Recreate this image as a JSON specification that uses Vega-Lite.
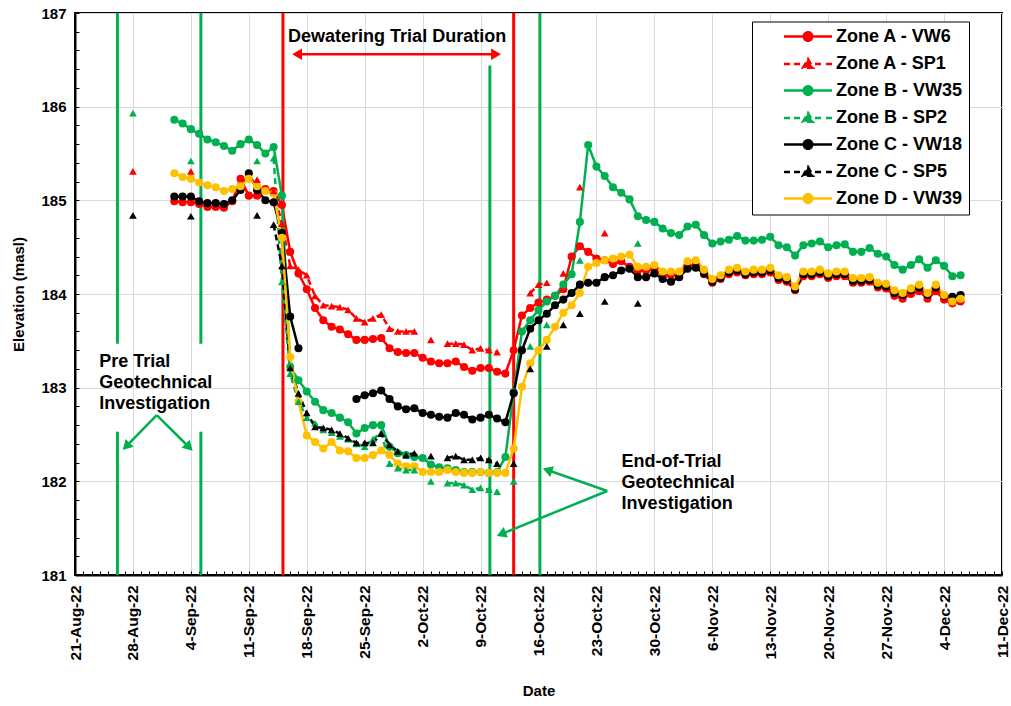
{
  "$schema": "https://vega.github.io/schema/vega-lite/v6.json",
  "width": 927,
  "height": 562,
  "autosize": "none",
  "padding": {"left": 75, "top": 13, "right": 9, "bottom": 131},
  "background": "white",
  "config": {
    "font": "Liberation Sans",
    "view": {"stroke": "black", "strokeWidth": 2},
    "axis": {
      "labelFont": "Liberation Sans",
      "labelFontWeight": "bold",
      "labelFontSize": 15,
      "labelColor": "black",
      "titleFont": "Liberation Sans",
      "titleFontWeight": "bold",
      "titleFontSize": 15,
      "titleColor": "black",
      "domainColor": "black",
      "domainWidth": 2,
      "tickColor": "black",
      "tickWidth": 1,
      "gridColor": "#d9d9d9",
      "gridWidth": 1
    },
    "legend": {
      "labelFont": "Liberation Sans",
      "labelFontWeight": "bold",
      "labelFontSize": 18,
      "labelColor": "black"
    }
  },
  "datasets": {
    "levels": [
      {"date": "2022-09-02", "series": "Zone A - VW6", "elev": 184.99},
      {"date": "2022-09-03", "series": "Zone A - VW6", "elev": 184.98},
      {"date": "2022-09-04", "series": "Zone A - VW6", "elev": 184.98},
      {"date": "2022-09-05", "series": "Zone A - VW6", "elev": 184.96},
      {"date": "2022-09-06", "series": "Zone A - VW6", "elev": 184.93},
      {"date": "2022-09-07", "series": "Zone A - VW6", "elev": 184.93},
      {"date": "2022-09-08", "series": "Zone A - VW6", "elev": 184.92},
      {"date": "2022-09-09", "series": "Zone A - VW6", "elev": 184.99},
      {"date": "2022-09-10", "series": "Zone A - VW6", "elev": 185.23},
      {"date": "2022-09-11", "series": "Zone A - VW6", "elev": 185.05},
      {"date": "2022-09-12", "series": "Zone A - VW6", "elev": 185.05},
      {"date": "2022-09-13", "series": "Zone A - VW6", "elev": 185.12},
      {"date": "2022-09-14", "series": "Zone A - VW6", "elev": 185.10},
      {"date": "2022-09-15", "series": "Zone A - VW6", "elev": 184.95},
      {"date": "2022-09-16", "series": "Zone A - VW6", "elev": 184.45},
      {"date": "2022-09-17", "series": "Zone A - VW6", "elev": 184.22},
      {"date": "2022-09-18", "series": "Zone A - VW6", "elev": 184.05},
      {"date": "2022-09-19", "series": "Zone A - VW6", "elev": 183.85},
      {"date": "2022-09-20", "series": "Zone A - VW6", "elev": 183.72},
      {"date": "2022-09-21", "series": "Zone A - VW6", "elev": 183.65},
      {"date": "2022-09-22", "series": "Zone A - VW6", "elev": 183.62},
      {"date": "2022-09-23", "series": "Zone A - VW6", "elev": 183.57},
      {"date": "2022-09-24", "series": "Zone A - VW6", "elev": 183.51},
      {"date": "2022-09-25", "series": "Zone A - VW6", "elev": 183.51},
      {"date": "2022-09-26", "series": "Zone A - VW6", "elev": 183.52},
      {"date": "2022-09-27", "series": "Zone A - VW6", "elev": 183.53},
      {"date": "2022-09-28", "series": "Zone A - VW6", "elev": 183.42},
      {"date": "2022-09-29", "series": "Zone A - VW6", "elev": 183.38},
      {"date": "2022-09-30", "series": "Zone A - VW6", "elev": 183.37},
      {"date": "2022-10-01", "series": "Zone A - VW6", "elev": 183.37},
      {"date": "2022-10-02", "series": "Zone A - VW6", "elev": 183.32},
      {"date": "2022-10-03", "series": "Zone A - VW6", "elev": 183.28},
      {"date": "2022-10-04", "series": "Zone A - VW6", "elev": 183.26},
      {"date": "2022-10-05", "series": "Zone A - VW6", "elev": 183.26},
      {"date": "2022-10-06", "series": "Zone A - VW6", "elev": 183.28},
      {"date": "2022-10-07", "series": "Zone A - VW6", "elev": 183.22},
      {"date": "2022-10-08", "series": "Zone A - VW6", "elev": 183.18},
      {"date": "2022-10-09", "series": "Zone A - VW6", "elev": 183.21},
      {"date": "2022-10-10", "series": "Zone A - VW6", "elev": 183.21},
      {"date": "2022-10-11", "series": "Zone A - VW6", "elev": 183.17},
      {"date": "2022-10-12", "series": "Zone A - VW6", "elev": 183.15},
      {"date": "2022-10-13", "series": "Zone A - VW6", "elev": 183.40},
      {"date": "2022-10-14", "series": "Zone A - VW6", "elev": 183.77},
      {"date": "2022-10-15", "series": "Zone A - VW6", "elev": 183.85},
      {"date": "2022-10-16", "series": "Zone A - VW6", "elev": 183.91},
      {"date": "2022-10-17", "series": "Zone A - VW6", "elev": 183.94},
      {"date": "2022-10-18", "series": "Zone A - VW6", "elev": 183.98},
      {"date": "2022-10-19", "series": "Zone A - VW6", "elev": 184.05},
      {"date": "2022-10-20", "series": "Zone A - VW6", "elev": 184.40},
      {"date": "2022-10-21", "series": "Zone A - VW6", "elev": 184.51},
      {"date": "2022-10-22", "series": "Zone A - VW6", "elev": 184.45},
      {"date": "2022-10-23", "series": "Zone A - VW6", "elev": 184.38},
      {"date": "2022-10-24", "series": "Zone A - VW6", "elev": 184.36},
      {"date": "2022-10-25", "series": "Zone A - VW6", "elev": 184.32},
      {"date": "2022-10-26", "series": "Zone A - VW6", "elev": 184.35},
      {"date": "2022-10-27", "series": "Zone A - VW6", "elev": 184.29},
      {"date": "2022-10-28", "series": "Zone A - VW6", "elev": 184.25},
      {"date": "2022-10-29", "series": "Zone A - VW6", "elev": 184.25},
      {"date": "2022-10-30", "series": "Zone A - VW6", "elev": 184.27},
      {"date": "2022-10-31", "series": "Zone A - VW6", "elev": 184.20},
      {"date": "2022-11-01", "series": "Zone A - VW6", "elev": 184.20},
      {"date": "2022-11-02", "series": "Zone A - VW6", "elev": 184.20},
      {"date": "2022-11-03", "series": "Zone A - VW6", "elev": 184.30},
      {"date": "2022-11-04", "series": "Zone A - VW6", "elev": 184.31},
      {"date": "2022-11-05", "series": "Zone A - VW6", "elev": 184.21},
      {"date": "2022-11-06", "series": "Zone A - VW6", "elev": 184.12},
      {"date": "2022-11-07", "series": "Zone A - VW6", "elev": 184.16},
      {"date": "2022-11-08", "series": "Zone A - VW6", "elev": 184.21},
      {"date": "2022-11-09", "series": "Zone A - VW6", "elev": 184.23},
      {"date": "2022-11-10", "series": "Zone A - VW6", "elev": 184.20},
      {"date": "2022-11-11", "series": "Zone A - VW6", "elev": 184.21},
      {"date": "2022-11-12", "series": "Zone A - VW6", "elev": 184.21},
      {"date": "2022-11-13", "series": "Zone A - VW6", "elev": 184.23},
      {"date": "2022-11-14", "series": "Zone A - VW6", "elev": 184.15},
      {"date": "2022-11-15", "series": "Zone A - VW6", "elev": 184.13},
      {"date": "2022-11-16", "series": "Zone A - VW6", "elev": 184.04},
      {"date": "2022-11-17", "series": "Zone A - VW6", "elev": 184.19},
      {"date": "2022-11-18", "series": "Zone A - VW6", "elev": 184.19},
      {"date": "2022-11-19", "series": "Zone A - VW6", "elev": 184.21},
      {"date": "2022-11-20", "series": "Zone A - VW6", "elev": 184.17},
      {"date": "2022-11-21", "series": "Zone A - VW6", "elev": 184.19},
      {"date": "2022-11-22", "series": "Zone A - VW6", "elev": 184.19},
      {"date": "2022-11-23", "series": "Zone A - VW6", "elev": 184.12},
      {"date": "2022-11-24", "series": "Zone A - VW6", "elev": 184.12},
      {"date": "2022-11-25", "series": "Zone A - VW6", "elev": 184.13},
      {"date": "2022-11-26", "series": "Zone A - VW6", "elev": 184.07},
      {"date": "2022-11-27", "series": "Zone A - VW6", "elev": 184.06},
      {"date": "2022-11-28", "series": "Zone A - VW6", "elev": 183.98},
      {"date": "2022-11-29", "series": "Zone A - VW6", "elev": 183.95},
      {"date": "2022-11-30", "series": "Zone A - VW6", "elev": 184.00},
      {"date": "2022-12-01", "series": "Zone A - VW6", "elev": 184.03},
      {"date": "2022-12-02", "series": "Zone A - VW6", "elev": 183.95},
      {"date": "2022-12-03", "series": "Zone A - VW6", "elev": 184.03},
      {"date": "2022-12-04", "series": "Zone A - VW6", "elev": 183.94},
      {"date": "2022-12-05", "series": "Zone A - VW6", "elev": 183.90},
      {"date": "2022-12-06", "series": "Zone A - VW6", "elev": 183.92},

      {"date": "2022-08-28", "series": "Zone A - SP1", "elev": 185.31},
      {"date": "2022-09-01", "series": "Zone A - SP1", "elev": null},
      {"date": "2022-09-04", "series": "Zone A - SP1", "elev": 185.31},
      {"date": "2022-09-08", "series": "Zone A - SP1", "elev": null},
      {"date": "2022-09-12", "series": "Zone A - SP1", "elev": 185.22},
      {"date": "2022-09-13", "series": "Zone A - SP1", "elev": null},
      {"date": "2022-09-14", "series": "Zone A - SP1", "elev": 185.10},
      {"date": "2022-09-15", "series": "Zone A - SP1", "elev": 184.75},
      {"date": "2022-09-16", "series": "Zone A - SP1", "elev": 184.30},
      {"date": "2022-09-17", "series": "Zone A - SP1", "elev": 184.26},
      {"date": "2022-09-18", "series": "Zone A - SP1", "elev": 184.20},
      {"date": "2022-09-19", "series": "Zone A - SP1", "elev": 183.98},
      {"date": "2022-09-20", "series": "Zone A - SP1", "elev": 183.88},
      {"date": "2022-09-21", "series": "Zone A - SP1", "elev": 183.87},
      {"date": "2022-09-22", "series": "Zone A - SP1", "elev": 183.86},
      {"date": "2022-09-23", "series": "Zone A - SP1", "elev": 183.83},
      {"date": "2022-09-24", "series": "Zone A - SP1", "elev": 183.74},
      {"date": "2022-09-25", "series": "Zone A - SP1", "elev": 183.70},
      {"date": "2022-09-26", "series": "Zone A - SP1", "elev": 183.74},
      {"date": "2022-09-27", "series": "Zone A - SP1", "elev": 183.78},
      {"date": "2022-09-28", "series": "Zone A - SP1", "elev": 183.63},
      {"date": "2022-09-29", "series": "Zone A - SP1", "elev": 183.60},
      {"date": "2022-09-30", "series": "Zone A - SP1", "elev": 183.60},
      {"date": "2022-10-01", "series": "Zone A - SP1", "elev": 183.60},
      {"date": "2022-10-02", "series": "Zone A - SP1", "elev": null},
      {"date": "2022-10-03", "series": "Zone A - SP1", "elev": 183.51},
      {"date": "2022-10-04", "series": "Zone A - SP1", "elev": null},
      {"date": "2022-10-05", "series": "Zone A - SP1", "elev": 183.47},
      {"date": "2022-10-06", "series": "Zone A - SP1", "elev": 183.47},
      {"date": "2022-10-07", "series": "Zone A - SP1", "elev": 183.46},
      {"date": "2022-10-08", "series": "Zone A - SP1", "elev": 183.40},
      {"date": "2022-10-09", "series": "Zone A - SP1", "elev": 183.42},
      {"date": "2022-10-10", "series": "Zone A - SP1", "elev": 183.40},
      {"date": "2022-10-11", "series": "Zone A - SP1", "elev": 183.38},
      {"date": "2022-10-12", "series": "Zone A - SP1", "elev": null},
      {"date": "2022-10-15", "series": "Zone A - SP1", "elev": 184.01},
      {"date": "2022-10-16", "series": "Zone A - SP1", "elev": 184.10},
      {"date": "2022-10-17", "series": "Zone A - SP1", "elev": 184.12},
      {"date": "2022-10-18", "series": "Zone A - SP1", "elev": null},
      {"date": "2022-10-19", "series": "Zone A - SP1", "elev": 184.22},
      {"date": "2022-10-20", "series": "Zone A - SP1", "elev": null},
      {"date": "2022-10-21", "series": "Zone A - SP1", "elev": 185.14},
      {"date": "2022-10-22", "series": "Zone A - SP1", "elev": null},
      {"date": "2022-10-24", "series": "Zone A - SP1", "elev": 184.65},

      {"date": "2022-09-02", "series": "Zone B - VW35", "elev": 185.86},
      {"date": "2022-09-03", "series": "Zone B - VW35", "elev": 185.82},
      {"date": "2022-09-04", "series": "Zone B - VW35", "elev": 185.76},
      {"date": "2022-09-05", "series": "Zone B - VW35", "elev": 185.71},
      {"date": "2022-09-06", "series": "Zone B - VW35", "elev": 185.65},
      {"date": "2022-09-07", "series": "Zone B - VW35", "elev": 185.62},
      {"date": "2022-09-08", "series": "Zone B - VW35", "elev": 185.58},
      {"date": "2022-09-09", "series": "Zone B - VW35", "elev": 185.53},
      {"date": "2022-09-10", "series": "Zone B - VW35", "elev": 185.60},
      {"date": "2022-09-11", "series": "Zone B - VW35", "elev": 185.65},
      {"date": "2022-09-12", "series": "Zone B - VW35", "elev": 185.59},
      {"date": "2022-09-13", "series": "Zone B - VW35", "elev": 185.50},
      {"date": "2022-09-14", "series": "Zone B - VW35", "elev": 185.57},
      {"date": "2022-09-15", "series": "Zone B - VW35", "elev": 185.05},
      {"date": "2022-09-16", "series": "Zone B - VW35", "elev": 183.22},
      {"date": "2022-09-17", "series": "Zone B - VW35", "elev": 183.08},
      {"date": "2022-09-18", "series": "Zone B - VW35", "elev": 182.96},
      {"date": "2022-09-19", "series": "Zone B - VW35", "elev": 182.85},
      {"date": "2022-09-20", "series": "Zone B - VW35", "elev": 182.76},
      {"date": "2022-09-21", "series": "Zone B - VW35", "elev": 182.73},
      {"date": "2022-09-22", "series": "Zone B - VW35", "elev": 182.68},
      {"date": "2022-09-23", "series": "Zone B - VW35", "elev": 182.63},
      {"date": "2022-09-24", "series": "Zone B - VW35", "elev": 182.51},
      {"date": "2022-09-25", "series": "Zone B - VW35", "elev": 182.57},
      {"date": "2022-09-26", "series": "Zone B - VW35", "elev": 182.60},
      {"date": "2022-09-27", "series": "Zone B - VW35", "elev": 182.60},
      {"date": "2022-09-28", "series": "Zone B - VW35", "elev": 182.37},
      {"date": "2022-09-29", "series": "Zone B - VW35", "elev": 182.30},
      {"date": "2022-09-30", "series": "Zone B - VW35", "elev": 182.28},
      {"date": "2022-10-01", "series": "Zone B - VW35", "elev": 182.26},
      {"date": "2022-10-02", "series": "Zone B - VW35", "elev": 182.25},
      {"date": "2022-10-03", "series": "Zone B - VW35", "elev": 182.18},
      {"date": "2022-10-04", "series": "Zone B - VW35", "elev": 182.15},
      {"date": "2022-10-05", "series": "Zone B - VW35", "elev": 182.14},
      {"date": "2022-10-06", "series": "Zone B - VW35", "elev": 182.12},
      {"date": "2022-10-07", "series": "Zone B - VW35", "elev": 182.10},
      {"date": "2022-10-08", "series": "Zone B - VW35", "elev": 182.10},
      {"date": "2022-10-09", "series": "Zone B - VW35", "elev": 182.10},
      {"date": "2022-10-10", "series": "Zone B - VW35", "elev": 182.09},
      {"date": "2022-10-11", "series": "Zone B - VW35", "elev": 182.10},
      {"date": "2022-10-12", "series": "Zone B - VW35", "elev": 182.26},
      {"date": "2022-10-13", "series": "Zone B - VW35", "elev": 182.95},
      {"date": "2022-10-14", "series": "Zone B - VW35", "elev": 183.60},
      {"date": "2022-10-15", "series": "Zone B - VW35", "elev": 183.72},
      {"date": "2022-10-16", "series": "Zone B - VW35", "elev": 183.83},
      {"date": "2022-10-17", "series": "Zone B - VW35", "elev": 183.92},
      {"date": "2022-10-18", "series": "Zone B - VW35", "elev": 183.98},
      {"date": "2022-10-19", "series": "Zone B - VW35", "elev": 184.10},
      {"date": "2022-10-20", "series": "Zone B - VW35", "elev": 184.21},
      {"date": "2022-10-21", "series": "Zone B - VW35", "elev": 184.77},
      {"date": "2022-10-22", "series": "Zone B - VW35", "elev": 185.59},
      {"date": "2022-10-23", "series": "Zone B - VW35", "elev": 185.36},
      {"date": "2022-10-24", "series": "Zone B - VW35", "elev": 185.26},
      {"date": "2022-10-25", "series": "Zone B - VW35", "elev": 185.14},
      {"date": "2022-10-26", "series": "Zone B - VW35", "elev": 185.08},
      {"date": "2022-10-27", "series": "Zone B - VW35", "elev": 185.01},
      {"date": "2022-10-28", "series": "Zone B - VW35", "elev": 184.83},
      {"date": "2022-10-29", "series": "Zone B - VW35", "elev": 184.79},
      {"date": "2022-10-30", "series": "Zone B - VW35", "elev": 184.77},
      {"date": "2022-10-31", "series": "Zone B - VW35", "elev": 184.70},
      {"date": "2022-11-01", "series": "Zone B - VW35", "elev": 184.65},
      {"date": "2022-11-02", "series": "Zone B - VW35", "elev": 184.63},
      {"date": "2022-11-03", "series": "Zone B - VW35", "elev": 184.72},
      {"date": "2022-11-04", "series": "Zone B - VW35", "elev": 184.74},
      {"date": "2022-11-05", "series": "Zone B - VW35", "elev": 184.63},
      {"date": "2022-11-06", "series": "Zone B - VW35", "elev": 184.54},
      {"date": "2022-11-07", "series": "Zone B - VW35", "elev": 184.56},
      {"date": "2022-11-08", "series": "Zone B - VW35", "elev": 184.58},
      {"date": "2022-11-09", "series": "Zone B - VW35", "elev": 184.62},
      {"date": "2022-11-10", "series": "Zone B - VW35", "elev": 184.57},
      {"date": "2022-11-11", "series": "Zone B - VW35", "elev": 184.57},
      {"date": "2022-11-12", "series": "Zone B - VW35", "elev": 184.58},
      {"date": "2022-11-13", "series": "Zone B - VW35", "elev": 184.61},
      {"date": "2022-11-14", "series": "Zone B - VW35", "elev": 184.52},
      {"date": "2022-11-15", "series": "Zone B - VW35", "elev": 184.50},
      {"date": "2022-11-16", "series": "Zone B - VW35", "elev": 184.41},
      {"date": "2022-11-17", "series": "Zone B - VW35", "elev": 184.52},
      {"date": "2022-11-18", "series": "Zone B - VW35", "elev": 184.54},
      {"date": "2022-11-19", "series": "Zone B - VW35", "elev": 184.56},
      {"date": "2022-11-20", "series": "Zone B - VW35", "elev": 184.50},
      {"date": "2022-11-21", "series": "Zone B - VW35", "elev": 184.52},
      {"date": "2022-11-22", "series": "Zone B - VW35", "elev": 184.53},
      {"date": "2022-11-23", "series": "Zone B - VW35", "elev": 184.45},
      {"date": "2022-11-24", "series": "Zone B - VW35", "elev": 184.45},
      {"date": "2022-11-25", "series": "Zone B - VW35", "elev": 184.49},
      {"date": "2022-11-26", "series": "Zone B - VW35", "elev": 184.43},
      {"date": "2022-11-27", "series": "Zone B - VW35", "elev": 184.40},
      {"date": "2022-11-28", "series": "Zone B - VW35", "elev": 184.31},
      {"date": "2022-11-29", "series": "Zone B - VW35", "elev": 184.26},
      {"date": "2022-11-30", "series": "Zone B - VW35", "elev": 184.31},
      {"date": "2022-12-01", "series": "Zone B - VW35", "elev": 184.37},
      {"date": "2022-12-02", "series": "Zone B - VW35", "elev": 184.28},
      {"date": "2022-12-03", "series": "Zone B - VW35", "elev": 184.36},
      {"date": "2022-12-04", "series": "Zone B - VW35", "elev": 184.30},
      {"date": "2022-12-05", "series": "Zone B - VW35", "elev": 184.19},
      {"date": "2022-12-06", "series": "Zone B - VW35", "elev": 184.20},

      {"date": "2022-08-28", "series": "Zone B - SP2", "elev": 185.93},
      {"date": "2022-09-01", "series": "Zone B - SP2", "elev": null},
      {"date": "2022-09-04", "series": "Zone B - SP2", "elev": 185.42},
      {"date": "2022-09-08", "series": "Zone B - SP2", "elev": null},
      {"date": "2022-09-12", "series": "Zone B - SP2", "elev": 185.42},
      {"date": "2022-09-13", "series": "Zone B - SP2", "elev": null},
      {"date": "2022-09-14", "series": "Zone B - SP2", "elev": 185.45},
      {"date": "2022-09-15", "series": "Zone B - SP2", "elev": 184.13},
      {"date": "2022-09-16", "series": "Zone B - SP2", "elev": 183.15},
      {"date": "2022-09-17", "series": "Zone B - SP2", "elev": 182.85},
      {"date": "2022-09-18", "series": "Zone B - SP2", "elev": 182.68},
      {"date": "2022-09-19", "series": "Zone B - SP2", "elev": 182.62},
      {"date": "2022-09-20", "series": "Zone B - SP2", "elev": 182.55},
      {"date": "2022-09-21", "series": "Zone B - SP2", "elev": 182.52},
      {"date": "2022-09-22", "series": "Zone B - SP2", "elev": 182.48},
      {"date": "2022-09-23", "series": "Zone B - SP2", "elev": 182.45},
      {"date": "2022-09-24", "series": "Zone B - SP2", "elev": 182.40},
      {"date": "2022-09-25", "series": "Zone B - SP2", "elev": 182.37},
      {"date": "2022-09-26", "series": "Zone B - SP2", "elev": 182.45},
      {"date": "2022-09-27", "series": "Zone B - SP2", "elev": 182.52},
      {"date": "2022-09-28", "series": "Zone B - SP2", "elev": 182.19},
      {"date": "2022-09-29", "series": "Zone B - SP2", "elev": 182.14},
      {"date": "2022-09-30", "series": "Zone B - SP2", "elev": 182.12},
      {"date": "2022-10-01", "series": "Zone B - SP2", "elev": 182.12},
      {"date": "2022-10-02", "series": "Zone B - SP2", "elev": null},
      {"date": "2022-10-03", "series": "Zone B - SP2", "elev": 182.00},
      {"date": "2022-10-04", "series": "Zone B - SP2", "elev": null},
      {"date": "2022-10-05", "series": "Zone B - SP2", "elev": 181.98},
      {"date": "2022-10-06", "series": "Zone B - SP2", "elev": 181.98},
      {"date": "2022-10-07", "series": "Zone B - SP2", "elev": 181.96},
      {"date": "2022-10-08", "series": "Zone B - SP2", "elev": 181.91},
      {"date": "2022-10-09", "series": "Zone B - SP2", "elev": 181.93},
      {"date": "2022-10-10", "series": "Zone B - SP2", "elev": 181.91},
      {"date": "2022-10-11", "series": "Zone B - SP2", "elev": 181.89},
      {"date": "2022-10-12", "series": "Zone B - SP2", "elev": null},
      {"date": "2022-10-13", "series": "Zone B - SP2", "elev": 182.00},
      {"date": "2022-10-14", "series": "Zone B - SP2", "elev": null},
      {"date": "2022-10-15", "series": "Zone B - SP2", "elev": 183.44},
      {"date": "2022-10-16", "series": "Zone B - SP2", "elev": null},
      {"date": "2022-10-17", "series": "Zone B - SP2", "elev": 183.67},
      {"date": "2022-10-18", "series": "Zone B - SP2", "elev": null},
      {"date": "2022-10-21", "series": "Zone B - SP2", "elev": 184.36},
      {"date": "2022-10-22", "series": "Zone B - SP2", "elev": null},
      {"date": "2022-10-28", "series": "Zone B - SP2", "elev": 184.54},

      {"date": "2022-09-02", "series": "Zone C - VW18", "elev": 185.04},
      {"date": "2022-09-03", "series": "Zone C - VW18", "elev": 185.04},
      {"date": "2022-09-04", "series": "Zone C - VW18", "elev": 185.04},
      {"date": "2022-09-05", "series": "Zone C - VW18", "elev": 184.99},
      {"date": "2022-09-06", "series": "Zone C - VW18", "elev": 184.97},
      {"date": "2022-09-07", "series": "Zone C - VW18", "elev": 184.97},
      {"date": "2022-09-08", "series": "Zone C - VW18", "elev": 184.96},
      {"date": "2022-09-09", "series": "Zone C - VW18", "elev": 185.00},
      {"date": "2022-09-10", "series": "Zone C - VW18", "elev": 185.11},
      {"date": "2022-09-11", "series": "Zone C - VW18", "elev": 185.29},
      {"date": "2022-09-12", "series": "Zone C - VW18", "elev": 185.11},
      {"date": "2022-09-13", "series": "Zone C - VW18", "elev": 185.00},
      {"date": "2022-09-14", "series": "Zone C - VW18", "elev": 184.98},
      {"date": "2022-09-15", "series": "Zone C - VW18", "elev": 184.65},
      {"date": "2022-09-16", "series": "Zone C - VW18", "elev": 183.76},
      {"date": "2022-09-17", "series": "Zone C - VW18", "elev": 183.42},
      {"date": "2022-09-18", "series": "Zone C - VW18", "elev": null},
      {"date": "2022-09-24", "series": "Zone C - VW18", "elev": 182.88},
      {"date": "2022-09-25", "series": "Zone C - VW18", "elev": 182.92},
      {"date": "2022-09-26", "series": "Zone C - VW18", "elev": 182.94},
      {"date": "2022-09-27", "series": "Zone C - VW18", "elev": 182.97},
      {"date": "2022-09-28", "series": "Zone C - VW18", "elev": 182.88},
      {"date": "2022-09-29", "series": "Zone C - VW18", "elev": 182.80},
      {"date": "2022-09-30", "series": "Zone C - VW18", "elev": 182.77},
      {"date": "2022-10-01", "series": "Zone C - VW18", "elev": 182.78},
      {"date": "2022-10-02", "series": "Zone C - VW18", "elev": 182.73},
      {"date": "2022-10-03", "series": "Zone C - VW18", "elev": 182.71},
      {"date": "2022-10-04", "series": "Zone C - VW18", "elev": 182.69},
      {"date": "2022-10-05", "series": "Zone C - VW18", "elev": 182.68},
      {"date": "2022-10-06", "series": "Zone C - VW18", "elev": 182.73},
      {"date": "2022-10-07", "series": "Zone C - VW18", "elev": 182.71},
      {"date": "2022-10-08", "series": "Zone C - VW18", "elev": 182.66},
      {"date": "2022-10-09", "series": "Zone C - VW18", "elev": 182.68},
      {"date": "2022-10-10", "series": "Zone C - VW18", "elev": 182.71},
      {"date": "2022-10-11", "series": "Zone C - VW18", "elev": 182.67},
      {"date": "2022-10-12", "series": "Zone C - VW18", "elev": 182.63},
      {"date": "2022-10-13", "series": "Zone C - VW18", "elev": 182.94},
      {"date": "2022-10-14", "series": "Zone C - VW18", "elev": 183.40},
      {"date": "2022-10-15", "series": "Zone C - VW18", "elev": 183.63},
      {"date": "2022-10-16", "series": "Zone C - VW18", "elev": 183.72},
      {"date": "2022-10-17", "series": "Zone C - VW18", "elev": 183.79},
      {"date": "2022-10-18", "series": "Zone C - VW18", "elev": 183.88},
      {"date": "2022-10-19", "series": "Zone C - VW18", "elev": 183.94},
      {"date": "2022-10-20", "series": "Zone C - VW18", "elev": 184.01},
      {"date": "2022-10-21", "series": "Zone C - VW18", "elev": 184.10},
      {"date": "2022-10-22", "series": "Zone C - VW18", "elev": 184.12},
      {"date": "2022-10-23", "series": "Zone C - VW18", "elev": 184.12},
      {"date": "2022-10-24", "series": "Zone C - VW18", "elev": 184.18},
      {"date": "2022-10-25", "series": "Zone C - VW18", "elev": 184.20},
      {"date": "2022-10-26", "series": "Zone C - VW18", "elev": 184.25},
      {"date": "2022-10-27", "series": "Zone C - VW18", "elev": 184.27},
      {"date": "2022-10-28", "series": "Zone C - VW18", "elev": 184.18},
      {"date": "2022-10-29", "series": "Zone C - VW18", "elev": 184.18},
      {"date": "2022-10-30", "series": "Zone C - VW18", "elev": 184.22},
      {"date": "2022-10-31", "series": "Zone C - VW18", "elev": 184.16},
      {"date": "2022-11-01", "series": "Zone C - VW18", "elev": 184.13},
      {"date": "2022-11-02", "series": "Zone C - VW18", "elev": 184.18},
      {"date": "2022-11-03", "series": "Zone C - VW18", "elev": 184.27},
      {"date": "2022-11-04", "series": "Zone C - VW18", "elev": 184.28},
      {"date": "2022-11-05", "series": "Zone C - VW18", "elev": 184.22},
      {"date": "2022-11-06", "series": "Zone C - VW18", "elev": 184.13},
      {"date": "2022-11-07", "series": "Zone C - VW18", "elev": 184.17},
      {"date": "2022-11-08", "series": "Zone C - VW18", "elev": 184.23},
      {"date": "2022-11-09", "series": "Zone C - VW18", "elev": 184.25},
      {"date": "2022-11-10", "series": "Zone C - VW18", "elev": 184.21},
      {"date": "2022-11-11", "series": "Zone C - VW18", "elev": 184.23},
      {"date": "2022-11-12", "series": "Zone C - VW18", "elev": 184.23},
      {"date": "2022-11-13", "series": "Zone C - VW18", "elev": 184.25},
      {"date": "2022-11-14", "series": "Zone C - VW18", "elev": 184.17},
      {"date": "2022-11-15", "series": "Zone C - VW18", "elev": 184.15},
      {"date": "2022-11-16", "series": "Zone C - VW18", "elev": 184.05},
      {"date": "2022-11-17", "series": "Zone C - VW18", "elev": 184.21},
      {"date": "2022-11-18", "series": "Zone C - VW18", "elev": 184.21},
      {"date": "2022-11-19", "series": "Zone C - VW18", "elev": 184.23},
      {"date": "2022-11-20", "series": "Zone C - VW18", "elev": 184.19},
      {"date": "2022-11-21", "series": "Zone C - VW18", "elev": 184.21},
      {"date": "2022-11-22", "series": "Zone C - VW18", "elev": 184.21},
      {"date": "2022-11-23", "series": "Zone C - VW18", "elev": 184.14},
      {"date": "2022-11-24", "series": "Zone C - VW18", "elev": 184.14},
      {"date": "2022-11-25", "series": "Zone C - VW18", "elev": 184.15},
      {"date": "2022-11-26", "series": "Zone C - VW18", "elev": 184.09},
      {"date": "2022-11-27", "series": "Zone C - VW18", "elev": 184.08},
      {"date": "2022-11-28", "series": "Zone C - VW18", "elev": 184.01},
      {"date": "2022-11-29", "series": "Zone C - VW18", "elev": 183.99},
      {"date": "2022-11-30", "series": "Zone C - VW18", "elev": 184.04},
      {"date": "2022-12-01", "series": "Zone C - VW18", "elev": 184.07},
      {"date": "2022-12-02", "series": "Zone C - VW18", "elev": 183.99},
      {"date": "2022-12-03", "series": "Zone C - VW18", "elev": 184.07},
      {"date": "2022-12-04", "series": "Zone C - VW18", "elev": 183.98},
      {"date": "2022-12-05", "series": "Zone C - VW18", "elev": 183.97},
      {"date": "2022-12-06", "series": "Zone C - VW18", "elev": 183.99},

      {"date": "2022-08-28", "series": "Zone C - SP5", "elev": 184.84},
      {"date": "2022-09-01", "series": "Zone C - SP5", "elev": null},
      {"date": "2022-09-04", "series": "Zone C - SP5", "elev": 184.83},
      {"date": "2022-09-08", "series": "Zone C - SP5", "elev": null},
      {"date": "2022-09-12", "series": "Zone C - SP5", "elev": 184.84},
      {"date": "2022-09-13", "series": "Zone C - SP5", "elev": null},
      {"date": "2022-09-14", "series": "Zone C - SP5", "elev": 184.74},
      {"date": "2022-09-15", "series": "Zone C - SP5", "elev": 184.30},
      {"date": "2022-09-16", "series": "Zone C - SP5", "elev": 183.21},
      {"date": "2022-09-17", "series": "Zone C - SP5", "elev": 182.94},
      {"date": "2022-09-18", "series": "Zone C - SP5", "elev": 182.73},
      {"date": "2022-09-19", "series": "Zone C - SP5", "elev": 182.58},
      {"date": "2022-09-20", "series": "Zone C - SP5", "elev": 182.57},
      {"date": "2022-09-21", "series": "Zone C - SP5", "elev": 182.55},
      {"date": "2022-09-22", "series": "Zone C - SP5", "elev": 182.51},
      {"date": "2022-09-23", "series": "Zone C - SP5", "elev": 182.46},
      {"date": "2022-09-24", "series": "Zone C - SP5", "elev": 182.41},
      {"date": "2022-09-25", "series": "Zone C - SP5", "elev": 182.41},
      {"date": "2022-09-26", "series": "Zone C - SP5", "elev": 182.41},
      {"date": "2022-09-27", "series": "Zone C - SP5", "elev": 182.51},
      {"date": "2022-09-28", "series": "Zone C - SP5", "elev": 182.39},
      {"date": "2022-09-29", "series": "Zone C - SP5", "elev": 182.32},
      {"date": "2022-09-30", "series": "Zone C - SP5", "elev": 182.28},
      {"date": "2022-10-01", "series": "Zone C - SP5", "elev": 182.30},
      {"date": "2022-10-02", "series": "Zone C - SP5", "elev": null},
      {"date": "2022-10-03", "series": "Zone C - SP5", "elev": 182.27},
      {"date": "2022-10-04", "series": "Zone C - SP5", "elev": null},
      {"date": "2022-10-05", "series": "Zone C - SP5", "elev": 182.25},
      {"date": "2022-10-06", "series": "Zone C - SP5", "elev": 182.27},
      {"date": "2022-10-07", "series": "Zone C - SP5", "elev": 182.23},
      {"date": "2022-10-08", "series": "Zone C - SP5", "elev": 182.23},
      {"date": "2022-10-09", "series": "Zone C - SP5", "elev": 182.25},
      {"date": "2022-10-10", "series": "Zone C - SP5", "elev": 182.23},
      {"date": "2022-10-11", "series": "Zone C - SP5", "elev": 182.19},
      {"date": "2022-10-12", "series": "Zone C - SP5", "elev": null},
      {"date": "2022-10-13", "series": "Zone C - SP5", "elev": 182.19},
      {"date": "2022-10-14", "series": "Zone C - SP5", "elev": null},
      {"date": "2022-10-15", "series": "Zone C - SP5", "elev": 183.20},
      {"date": "2022-10-16", "series": "Zone C - SP5", "elev": null},
      {"date": "2022-10-17", "series": "Zone C - SP5", "elev": 183.44},
      {"date": "2022-10-18", "series": "Zone C - SP5", "elev": null},
      {"date": "2022-10-19", "series": "Zone C - SP5", "elev": 183.67},
      {"date": "2022-10-20", "series": "Zone C - SP5", "elev": null},
      {"date": "2022-10-21", "series": "Zone C - SP5", "elev": 183.79},
      {"date": "2022-10-22", "series": "Zone C - SP5", "elev": null},
      {"date": "2022-10-24", "series": "Zone C - SP5", "elev": 183.92},
      {"date": "2022-10-25", "series": "Zone C - SP5", "elev": null},
      {"date": "2022-10-28", "series": "Zone C - SP5", "elev": 183.90},

      {"date": "2022-09-02", "series": "Zone D - VW39", "elev": 185.29},
      {"date": "2022-09-03", "series": "Zone D - VW39", "elev": 185.25},
      {"date": "2022-09-04", "series": "Zone D - VW39", "elev": 185.23},
      {"date": "2022-09-05", "series": "Zone D - VW39", "elev": 185.19},
      {"date": "2022-09-06", "series": "Zone D - VW39", "elev": 185.16},
      {"date": "2022-09-07", "series": "Zone D - VW39", "elev": 185.14},
      {"date": "2022-09-08", "series": "Zone D - VW39", "elev": 185.10},
      {"date": "2022-09-09", "series": "Zone D - VW39", "elev": 185.12},
      {"date": "2022-09-10", "series": "Zone D - VW39", "elev": 185.15},
      {"date": "2022-09-11", "series": "Zone D - VW39", "elev": 185.23},
      {"date": "2022-09-12", "series": "Zone D - VW39", "elev": 185.15},
      {"date": "2022-09-13", "series": "Zone D - VW39", "elev": 185.10},
      {"date": "2022-09-14", "series": "Zone D - VW39", "elev": 185.07},
      {"date": "2022-09-15", "series": "Zone D - VW39", "elev": 184.60},
      {"date": "2022-09-16", "series": "Zone D - VW39", "elev": 183.33},
      {"date": "2022-09-17", "series": "Zone D - VW39", "elev": 182.85},
      {"date": "2022-09-18", "series": "Zone D - VW39", "elev": 182.49},
      {"date": "2022-09-19", "series": "Zone D - VW39", "elev": 182.42},
      {"date": "2022-09-20", "series": "Zone D - VW39", "elev": 182.35},
      {"date": "2022-09-21", "series": "Zone D - VW39", "elev": 182.42},
      {"date": "2022-09-22", "series": "Zone D - VW39", "elev": 182.33},
      {"date": "2022-09-23", "series": "Zone D - VW39", "elev": 182.32},
      {"date": "2022-09-24", "series": "Zone D - VW39", "elev": 182.25},
      {"date": "2022-09-25", "series": "Zone D - VW39", "elev": 182.25},
      {"date": "2022-09-26", "series": "Zone D - VW39", "elev": 182.28},
      {"date": "2022-09-27", "series": "Zone D - VW39", "elev": 182.33},
      {"date": "2022-09-28", "series": "Zone D - VW39", "elev": 182.28},
      {"date": "2022-09-29", "series": "Zone D - VW39", "elev": 182.19},
      {"date": "2022-09-30", "series": "Zone D - VW39", "elev": 182.16},
      {"date": "2022-10-01", "series": "Zone D - VW39", "elev": 182.16},
      {"date": "2022-10-02", "series": "Zone D - VW39", "elev": 182.10},
      {"date": "2022-10-03", "series": "Zone D - VW39", "elev": 182.10},
      {"date": "2022-10-04", "series": "Zone D - VW39", "elev": 182.10},
      {"date": "2022-10-05", "series": "Zone D - VW39", "elev": 182.12},
      {"date": "2022-10-06", "series": "Zone D - VW39", "elev": 182.10},
      {"date": "2022-10-07", "series": "Zone D - VW39", "elev": 182.09},
      {"date": "2022-10-08", "series": "Zone D - VW39", "elev": 182.09},
      {"date": "2022-10-09", "series": "Zone D - VW39", "elev": 182.10},
      {"date": "2022-10-10", "series": "Zone D - VW39", "elev": 182.09},
      {"date": "2022-10-11", "series": "Zone D - VW39", "elev": 182.09},
      {"date": "2022-10-12", "series": "Zone D - VW39", "elev": 182.09},
      {"date": "2022-10-13", "series": "Zone D - VW39", "elev": 182.35},
      {"date": "2022-10-14", "series": "Zone D - VW39", "elev": 183.01},
      {"date": "2022-10-15", "series": "Zone D - VW39", "elev": 183.26},
      {"date": "2022-10-16", "series": "Zone D - VW39", "elev": 183.40},
      {"date": "2022-10-17", "series": "Zone D - VW39", "elev": 183.51},
      {"date": "2022-10-18", "series": "Zone D - VW39", "elev": 183.65},
      {"date": "2022-10-19", "series": "Zone D - VW39", "elev": 183.80},
      {"date": "2022-10-20", "series": "Zone D - VW39", "elev": 183.88},
      {"date": "2022-10-21", "series": "Zone D - VW39", "elev": 184.01},
      {"date": "2022-10-22", "series": "Zone D - VW39", "elev": 184.29},
      {"date": "2022-10-23", "series": "Zone D - VW39", "elev": 184.33},
      {"date": "2022-10-24", "series": "Zone D - VW39", "elev": 184.36},
      {"date": "2022-10-25", "series": "Zone D - VW39", "elev": 184.38},
      {"date": "2022-10-26", "series": "Zone D - VW39", "elev": 184.40},
      {"date": "2022-10-27", "series": "Zone D - VW39", "elev": 184.42},
      {"date": "2022-10-28", "series": "Zone D - VW39", "elev": 184.29},
      {"date": "2022-10-29", "series": "Zone D - VW39", "elev": 184.29},
      {"date": "2022-10-30", "series": "Zone D - VW39", "elev": 184.31},
      {"date": "2022-10-31", "series": "Zone D - VW39", "elev": 184.24},
      {"date": "2022-11-01", "series": "Zone D - VW39", "elev": 184.24},
      {"date": "2022-11-02", "series": "Zone D - VW39", "elev": 184.24},
      {"date": "2022-11-03", "series": "Zone D - VW39", "elev": 184.35},
      {"date": "2022-11-04", "series": "Zone D - VW39", "elev": 184.36},
      {"date": "2022-11-05", "series": "Zone D - VW39", "elev": 184.26},
      {"date": "2022-11-06", "series": "Zone D - VW39", "elev": 184.16},
      {"date": "2022-11-07", "series": "Zone D - VW39", "elev": 184.20},
      {"date": "2022-11-08", "series": "Zone D - VW39", "elev": 184.26},
      {"date": "2022-11-09", "series": "Zone D - VW39", "elev": 184.28},
      {"date": "2022-11-10", "series": "Zone D - VW39", "elev": 184.24},
      {"date": "2022-11-11", "series": "Zone D - VW39", "elev": 184.26},
      {"date": "2022-11-12", "series": "Zone D - VW39", "elev": 184.26},
      {"date": "2022-11-13", "series": "Zone D - VW39", "elev": 184.28},
      {"date": "2022-11-14", "series": "Zone D - VW39", "elev": 184.20},
      {"date": "2022-11-15", "series": "Zone D - VW39", "elev": 184.18},
      {"date": "2022-11-16", "series": "Zone D - VW39", "elev": 184.08},
      {"date": "2022-11-17", "series": "Zone D - VW39", "elev": 184.24},
      {"date": "2022-11-18", "series": "Zone D - VW39", "elev": 184.24},
      {"date": "2022-11-19", "series": "Zone D - VW39", "elev": 184.26},
      {"date": "2022-11-20", "series": "Zone D - VW39", "elev": 184.22},
      {"date": "2022-11-21", "series": "Zone D - VW39", "elev": 184.24},
      {"date": "2022-11-22", "series": "Zone D - VW39", "elev": 184.24},
      {"date": "2022-11-23", "series": "Zone D - VW39", "elev": 184.17},
      {"date": "2022-11-24", "series": "Zone D - VW39", "elev": 184.17},
      {"date": "2022-11-25", "series": "Zone D - VW39", "elev": 184.18},
      {"date": "2022-11-26", "series": "Zone D - VW39", "elev": 184.12},
      {"date": "2022-11-27", "series": "Zone D - VW39", "elev": 184.11},
      {"date": "2022-11-28", "series": "Zone D - VW39", "elev": 184.04},
      {"date": "2022-11-29", "series": "Zone D - VW39", "elev": 184.01},
      {"date": "2022-11-30", "series": "Zone D - VW39", "elev": 184.06},
      {"date": "2022-12-01", "series": "Zone D - VW39", "elev": 184.10},
      {"date": "2022-12-02", "series": "Zone D - VW39", "elev": 184.01},
      {"date": "2022-12-03", "series": "Zone D - VW39", "elev": 184.10},
      {"date": "2022-12-04", "series": "Zone D - VW39", "elev": 183.99},
      {"date": "2022-12-05", "series": "Zone D - VW39", "elev": 183.92},
      {"date": "2022-12-06", "series": "Zone D - VW39", "elev": 183.95}
    ]
  },
  "encoding": {
    "x": {
      "field": "date",
      "type": "temporal",
      "title": "Date",
      "scale": {
        "type": "utc",
        "domain": [
          {"year": 2022, "month": 8, "date": 21, "utc": true},
          {"year": 2022, "month": 12, "date": 11, "utc": true}
        ]
      },
      "axis": {
        "tickCount": {"interval": "day", "step": 1},
        "labelExpr": "utcday(datum.value) === 0 ? utcFormat(datum.value, '%-d-%b-%y') : ''",
        "labelAngle": 270,
        "labelFontSize": 15.5,
        "labelOverlap": false,
        "labelFlush": false,
        "labelPadding": 14,
        "tickSize": -4,
        "grid": true,
        "gridOpacity": {"condition": {"test": "utcday(datum.value) !== 0", "value": 0}, "value": 1},
        "titlePadding": 24
      }
    },
    "y": {
      "field": "elev",
      "type": "quantitative",
      "title": "Elevation (masl)",
      "scale": {"domain": [181, 187], "nice": false, "zero": false},
      "axis": {
        "values": [181, 181.2, 181.4, 181.6, 181.8, 182, 182.2, 182.4, 182.6, 182.8, 183, 183.2, 183.4, 183.6, 183.8, 184, 184.2, 184.4, 184.6, 184.8, 185, 185.2, 185.4, 185.6, 185.8, 186, 186.2, 186.4, 186.6, 186.8, 187],
        "labelExpr": "datum.value % 1 === 0 ? format(datum.value, 'd') : ''",
        "labelPadding": 13,
        "tickSize": -4,
        "grid": true,
        "gridOpacity": {"condition": {"test": "datum.value % 1 !== 0", "value": 0}, "value": 1},
        "titlePadding": 14
      }
    }
  },
  "layer": [
    {
      "data": {"values": [
        {"date": "2022-08-26T03:00:00Z", "elev": 183.47, "elev2": 187},
        {"date": "2022-08-26T03:00:00Z", "elev": 181, "elev2": 182.53},
        {"date": "2022-09-05T05:00:00Z", "elev": 183.47, "elev2": 187},
        {"date": "2022-09-05T05:00:00Z", "elev": 181, "elev2": 182.53},
        {"date": "2022-10-10T03:00:00Z", "elev": 181, "elev2": 186.44},
        {"date": "2022-10-16T04:00:00Z", "elev": 181, "elev2": 187}
      ]},
      "mark": {"type": "rule", "color": "#00b050", "strokeWidth": 3},
      "encoding": {"y2": {"field": "elev2"}}
    },
    {
      "data": {"values": [
        {"date": "2022-09-15T03:00:00Z", "elev": 181, "elev2": 187},
        {"date": "2022-10-13T00:00:00Z", "elev": 181, "elev2": 187}
      ]},
      "mark": {"type": "rule", "color": "#ff0000", "strokeWidth": 3},
      "encoding": {"y2": {"field": "elev2"}}
    },
    {
      "data": {"name": "levels"},
      "mark": {"type": "line", "strokeWidth": 2.5},
      "encoding": {
        "color": {
          "field": "series",
          "type": "nominal",
          "scale": {
            "domain": ["Zone A - VW6", "Zone A - SP1", "Zone B - VW35", "Zone B - SP2", "Zone C - VW18", "Zone C - SP5", "Zone D - VW39"],
            "range": ["#ff0000", "#ff0000", "#00b050", "#00b050", "#000000", "#000000", "#ffc000"]
          },
          "legend": {
            "orient": "none",
            "legendX": 677,
            "legendY": 8.5,
            "title": null,
            "strokeColor": "black",
            "fillColor": "white",
            "padding": 6,
            "symbolSize": 100,
            "symbolOffset": 41,
            "labelOffset": 19,
            "rowPadding": 7.5,
            "symbolStrokeWidth": 2.5,
            "labelExpr": "datum.label + '\u2003\u2002'",
            "encode": {
              "symbols": {
                "update": {
                  "shape": {"signal": "indexof(datum.value, 'SP') >= 0 ? 'M-4.8,0H-3.6M-2.8,0H-1.4M1.4,0H2.8M3.6,0H4.8M0,-1L1,0.75H-1Z' : 'M-4.8,0H4.8M0.85,0A0.85,0.85 0 1,1 -0.85,0A0.85,0.85 0 1,1 0.85,0Z'"},
                  "fill": {"scale": "color", "field": "value"},
                  "strokeWidth": {"value": 2.5},
                  "opacity": {"value": 1}
                }
              }
            }
          }
        },
        "strokeDash": {
          "field": "series",
          "type": "nominal",
          "scale": {
            "domain": ["Zone A - VW6", "Zone A - SP1", "Zone B - VW35", "Zone B - SP2", "Zone C - VW18", "Zone C - SP5", "Zone D - VW39"],
            "range": [[1, 0], [6, 4], [1, 0], [6, 4], [1, 0], [6, 4], [1, 0]]
          },
          "legend": null
        }
      }
    },
    {
      "data": {"name": "levels"},
      "transform": [{"filter": "indexof(datum.series, 'VW') >= 0"}],
      "mark": {"type": "point", "shape": "circle", "filled": true, "opacity": 1, "size": 65, "strokeWidth": 1},
      "encoding": {"color": {"field": "series", "type": "nominal", "legend": null}}
    },
    {
      "data": {"name": "levels"},
      "transform": [{"filter": "indexof(datum.series, 'SP') >= 0"}],
      "mark": {"type": "point", "shape": "triangle-up", "filled": true, "opacity": 1, "size": 60, "strokeWidth": 1},
      "encoding": {"color": {"field": "series", "type": "nominal", "legend": null}}
    },
    {
      "data": {"values": [
        {"date": "2022-09-16T20:00:00Z", "date2": "2022-10-10T21:00:00Z", "elev": 186.56, "elev2": 186.56}
      ]},
      "mark": {"type": "rule", "color": "#ff0000", "strokeWidth": 2.5},
      "encoding": {"x2": {"field": "date2"}, "y2": {"field": "elev2"}}
    },
    {
      "data": {"values": [{"date": "2022-09-16T20:00:00Z", "elev": 186.56}]},
      "mark": {"type": "point", "shape": "triangle-left", "filled": true, "color": "#ff0000", "size": 130, "opacity": 1}
    },
    {
      "data": {"values": [{"date": "2022-10-10T21:00:00Z", "elev": 186.56}]},
      "mark": {"type": "point", "shape": "triangle-right", "filled": true, "color": "#ff0000", "size": 130, "opacity": 1}
    },
    {
      "data": {"values": [
        {"date": "2022-08-30T21:00:00Z", "date2": "2022-08-27T04:30:00Z", "elev": 182.708, "elev2": 182.373},
        {"date": "2022-08-30T21:00:00Z", "date2": "2022-09-03T19:00:00Z", "elev": 182.708, "elev2": 182.364},
        {"date": "2022-10-24T07:30:00Z", "date2": "2022-10-17T02:00:00Z", "elev": 181.897, "elev2": 182.121},
        {"date": "2022-10-24T07:30:00Z", "date2": "2022-10-11T12:00:00Z", "elev": 181.897, "elev2": 181.437}
      ]},
      "mark": {"type": "rule", "color": "#00b050", "strokeWidth": 2.5},
      "encoding": {"x2": {"field": "date2"}, "y2": {"field": "elev2"}}
    },
    {
      "data": {"values": [{"date": "2022-08-27T04:30:00Z", "elev": 182.373}]},
      "mark": {"type": "point", "shape": "triangle-up", "angle": 224, "filled": true, "color": "#00b050", "size": 130, "opacity": 1}
    },
    {
      "data": {"values": [{"date": "2022-09-03T19:00:00Z", "elev": 182.364}]},
      "mark": {"type": "point", "shape": "triangle-up", "angle": 135, "filled": true, "color": "#00b050", "size": 130, "opacity": 1}
    },
    {
      "data": {"values": [{"date": "2022-10-17T02:00:00Z", "elev": 182.121}]},
      "mark": {"type": "point", "shape": "triangle-up", "angle": 289, "filled": true, "color": "#00b050", "size": 130, "opacity": 1}
    },
    {
      "data": {"values": [{"date": "2022-10-11T12:00:00Z", "elev": 181.437}]},
      "mark": {"type": "point", "shape": "triangle-up", "angle": 248, "filled": true, "color": "#00b050", "size": 130, "opacity": 1}
    },
    {
      "data": {"values": [{"date": "2022-09-28T22:00:00Z", "elev": 186.744, "label": "Dewatering Trial Duration"}]},
      "mark": {"type": "text", "font": "Liberation Sans", "fontWeight": "bold", "fontSize": 18, "color": "black", "align": "center", "baseline": "middle"},
      "encoding": {"text": {"field": "label"}}
    },
    {
      "data": {"values": [
        {"date": "2022-08-23T22:00:00Z", "elev": 183.274, "label": "Pre Trial\nGeotechnical\nInvestigation"},
        {"date": "2022-10-26T01:00:00Z", "elev": 182.206, "label": "End-of-Trial\nGeotechnical\nInvestigation"}
      ]},
      "mark": {"type": "text", "font": "Liberation Sans", "fontWeight": "bold", "fontSize": 18, "color": "black", "align": "left", "baseline": "middle", "lineBreak": "\n", "lineHeight": 21},
      "encoding": {"text": {"field": "label"}}
    }
  ]
}
